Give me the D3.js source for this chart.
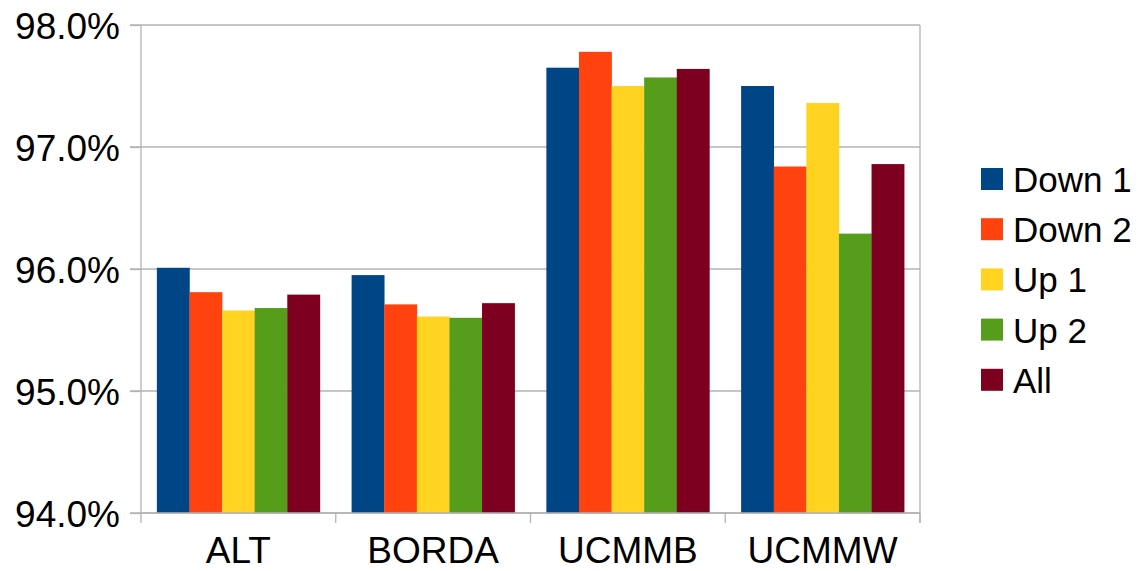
<!DOCTYPE html>
<html>
<head>
<meta charset="utf-8">
<script src="https://cdn.jsdelivr.net/npm/d3@7/dist/d3.min.js"></script>
<style>
  html, body { margin: 0; padding: 0; background: #fff; }
  svg { display: block; }
  text { font-family: "Liberation Sans", Arial, sans-serif; fill: #000; }
</style>
</head>
<body>
<svg id="chart" width="1141" height="571"></svg>
<script>
// Accuracy per method, one array per series (percent)
const categories = ["ALT", "BORDA", "UCMMB", "UCMMW"];
const seriesNames = ["Down 1", "Down 2", "Up 1", "Up 2", "All"];
const down1 = [96.01, 95.95, 97.65, 97.50];
const down2 = [95.81, 95.71, 97.78, 96.84];
const up1   = [95.66, 95.61, 97.50, 97.36];
const up2   = [95.68, 95.60, 97.57, 96.29];
const all   = [95.79, 95.72, 97.64, 96.86];
const yTicks = [94, 95, 96, 97, 98];
const colors = ["#004586", "#ff420e", "#ffd320", "#579d1c", "#7e0021"];

const seriesValues = [down1, down2, up1, up2, all];

const svg = d3.select("#chart");
const plot = { left: 141, right: 920, top: 25, bottom: 513 };
const gridColor = "#b3b3b3";

const x = d3.scaleBand().domain(categories).range([plot.left, plot.right]);

// Bars of one category sit side by side in the central part of its band
const groupFrac = 0.837;
const xInner = d3.scaleBand()
  .domain(seriesNames)
  .range([x.bandwidth() * (1 - groupFrac) / 2, x.bandwidth() * (1 + groupFrac) / 2]);

const y = d3.scaleLinear().domain([94, 98]).range([plot.bottom, plot.top]);

// Horizontal gridlines
svg.append("g")
  .selectAll("line")
  .data(yTicks)
  .join("line")
  .attr("x1", plot.left - 11).attr("x2", plot.right)
  .attr("y1", d => y(d)).attr("y2", d => y(d))
  .attr("stroke", gridColor).attr("stroke-width", 1.3);

// Right border of the plot area
svg.append("line")
  .attr("x1", plot.right).attr("x2", plot.right)
  .attr("y1", plot.top).attr("y2", plot.bottom + 10)
  .attr("stroke", gridColor).attr("stroke-width", 1.3);

// Bars
const groups = svg.append("g")
  .selectAll("g")
  .data(categories)
  .join("g")
  .attr("transform", d => `translate(${x(d)},0)`);

groups.selectAll("rect")
  .data((c, i) => seriesNames.map((s, j) => ({ s, j, v: seriesValues[j][i] })))
  .join("rect")
  .attr("x", d => xInner(d.s))
  .attr("width", xInner.bandwidth() + 0.3)
  .attr("y", d => y(d.v))
  .attr("height", d => y(94) - y(d.v))
  .attr("fill", d => colors[d.j]);

// Y axis
const yAxis = d3.axisLeft(y)
  .tickValues(yTicks)
  .tickSize(11)
  .tickPadding(10)
  .tickFormat(d => d3.format(".1f")(d) + "%");
const gy = svg.append("g")
  .attr("transform", `translate(${plot.left},0)`)
  .call(yAxis);
gy.select(".domain").attr("stroke", gridColor).attr("stroke-width", 1.3)
  .attr("d", `M0,${plot.top}V${plot.bottom}`);
gy.selectAll(".tick line").attr("stroke", gridColor).attr("stroke-width", 1.3);
gy.selectAll(".tick text")
  .attr("font-size", 37)
  .attr("dy", "0.36em")
  .attr("font-family", "Liberation Sans, Arial, sans-serif")
  .attr("fill", "#000");

// X axis: ticks sit on the category boundaries
const gx = svg.append("g")
  .attr("transform", `translate(0,${plot.bottom})`);
gx.append("line")
  .attr("x1", plot.left).attr("x2", plot.right)
  .attr("y1", 0).attr("y2", 0)
  .attr("stroke", gridColor).attr("stroke-width", 1.3);
const boundaries = categories.map(c => x(c)).concat([x(categories[categories.length - 1]) + x.bandwidth()]);
gx.selectAll("line.tick")
  .data(boundaries)
  .join("line")
  .attr("class", "tick")
  .attr("x1", d => d).attr("x2", d => d)
  .attr("y1", 0).attr("y2", 10)
  .attr("stroke", gridColor).attr("stroke-width", 1.3);
gx.selectAll("text")
  .data(categories)
  .join("text")
  .attr("x", d => x(d) + x.bandwidth() / 2)
  .attr("y", 50)
  .attr("text-anchor", "middle")
  .attr("font-size", 37)
  .text(d => d);

// Legend
const legend = svg.append("g").attr("transform", "translate(981,168)");
const rowH = 50.2;
const items = legend.selectAll("g")
  .data(seriesNames)
  .join("g")
  .attr("transform", (d, i) => `translate(0,${i * rowH})`);
items.append("rect")
  .attr("width", 22).attr("height", 22)
  .attr("fill", (d, i) => colors[i]);
items.append("text")
  .attr("x", 32)
  .attr("y", 24)
  .attr("font-size", 35)
  .text(d => d);
</script>
</body>
</html>
